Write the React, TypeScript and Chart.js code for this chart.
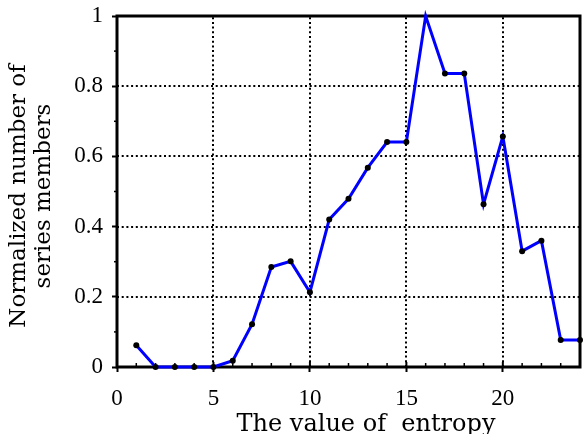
import React, { useEffect, useRef } from "react";
import { Chart, registerables } from "chart.js";

Chart.register(...registerables);

const entropyValues = [1, 2, 3, 4, 5, 6, 7, 8, 9, 10, 11, 12, 13, 14, 15, 16, 17, 18, 19, 20, 21, 22, 23, 24];
const normalizedMembers = [0.062, 0, 0, 0, 0, 0.018, 0.122, 0.285, 0.301, 0.213, 0.42, 0.479, 0.568, 0.641, 0.641, 1.0, 0.836, 0.836, 0.464, 0.657, 0.33, 0.36, 0.077, 0.077];
const xGridValues = [5, 10, 15, 20];
const yGridValues = [0.2, 0.4, 0.6, 0.8];
const xTitle = "The value of  entropy";
const yTitle = ["Normalized number of", "series members"];

const TICK_FONT = "'Liberation Serif', serif";
const TITLE_FONT = "'DejaVu Serif', serif";

const framePlugin = {
  id: "frameGrid",
  beforeDatasetsDraw(chart: any) {
    const { ctx, chartArea, scales } = chart;
    const xs = scales.x;
    const ys = scales.y;
    ctx.save();
    ctx.strokeStyle = "#000";
    ctx.lineWidth = 2;
    ctx.setLineDash([2, 2.7]);
    xGridValues.forEach((v) => {
      const px = Math.round(xs.getPixelForValue(v));
      ctx.beginPath();
      ctx.moveTo(px, chartArea.bottom);
      ctx.lineTo(px, chartArea.top);
      ctx.stroke();
    });
    yGridValues.forEach((v) => {
      const py = Math.round(ys.getPixelForValue(v));
      ctx.beginPath();
      ctx.moveTo(chartArea.left, py);
      ctx.lineTo(chartArea.right, py);
      ctx.stroke();
    });
    ctx.setLineDash([]);
    ctx.lineWidth = 1.5;
    for (let v = 1; v < 24; v++) {
      if (v % 5 === 0) continue;
      const px = xs.getPixelForValue(v);
      ctx.beginPath();
      ctx.moveTo(px, chartArea.bottom);
      ctx.lineTo(px, chartArea.bottom - 4);
      ctx.stroke();
    }
    for (let i = 1; i < 10; i += 2) {
      const py = ys.getPixelForValue(i / 10);
      ctx.beginPath();
      ctx.moveTo(chartArea.left, py);
      ctx.lineTo(chartArea.left - 3, py);
      ctx.stroke();
    }
    ctx.lineWidth = 2;
    xGridValues.forEach((v) => {
      const px = xs.getPixelForValue(v);
      ctx.beginPath();
      ctx.moveTo(px, chartArea.bottom);
      ctx.lineTo(px, chartArea.bottom - 5);
      ctx.stroke();
    });
    ctx.lineWidth = 3;
    ctx.strokeRect(chartArea.left, chartArea.top, chartArea.right - chartArea.left, chartArea.bottom - chartArea.top);
    ctx.restore();
  },
  afterDraw(chart: any) {
    const { ctx, chartArea } = chart;
    ctx.save();
    ctx.fillStyle = "#000";
    ctx.textBaseline = "alphabetic";
    ctx.textAlign = "center";
    ctx.font = `24px ${TITLE_FONT}`;
    ctx.fillText(xTitle, chartArea.left + 249, chartArea.bottom + 64);
    ctx.font = `23px ${TITLE_FONT}`;
    const cy = chartArea.top + 180;
    yTitle.forEach((line, i) => {
      ctx.save();
      ctx.translate(25 + i * 25, cy);
      ctx.rotate(-Math.PI / 2);
      ctx.fillText(line, 0, 0);
      ctx.restore();
    });
    ctx.restore();
  },
};

export default function App() {
  const ref = useRef<HTMLCanvasElement>(null);
  useEffect(() => {
    document.body.style.margin = "0";
    const canvas = ref.current;
    if (!canvas) return;
    const chart = new Chart(canvas, {
      type: "line",
      data: {
        datasets: [
          {
            data: entropyValues.map((x, i) => ({ x, y: normalizedMembers[i] })),
            borderColor: "#0000ff",
            borderWidth: 3,
            pointBackgroundColor: "#000",
            pointBorderColor: "#000",
            pointRadius: normalizedMembers.map((v) => (v >= 1 ? 0 : 3)),
            pointBorderWidth: 0,
            tension: 0,
            clip: false as any,
          },
        ],
      },
      options: {
        animation: false,
        responsive: false,
        maintainAspectRatio: false,
        layout: { padding: { top: 16, right: 3, left: 0, bottom: 0 } },
        plugins: { legend: { display: false }, tooltip: { enabled: false } },
        scales: {
          x: {
            type: "linear",
            min: 0,
            max: 24,
            ticks: {
              stepSize: 5,
              includeBounds: false,
              color: "#000",
              padding: 13,
              maxRotation: 0,
              font: { family: TICK_FONT, size: 23 },
            },
            grid: { drawOnChartArea: false, drawTicks: true, tickLength: 5, tickColor: "#000", tickWidth: 2, color: "#000" },
            border: { display: false },
            title: { display: false },
            afterFit: (s: any) => {
              s.height = 67;
              s.paddingLeft = 0;
              s.paddingRight = 0;
            },
          },
          y: {
            type: "linear",
            min: 0,
            max: 1,
            ticks: {
              stepSize: 0.2,
              color: "#000",
              padding: 9,
              font: { family: TICK_FONT, size: 23 },
              callback: (v: any) => String(Number(Number(v).toFixed(1))),
            },
            grid: { drawOnChartArea: false, drawTicks: true, tickLength: 5, tickColor: "#000", tickWidth: 2, color: "#000" },
            border: { display: false },
            title: { display: false },
            afterFit: (s: any) => {
              s.width = 117;
              s.paddingTop = 0;
              s.paddingBottom = 0;
            },
          },
        },
      },
      plugins: [framePlugin],
    });
    return () => chart.destroy();
  }, []);
  return (
    <div style={{ width: 584, height: 434 }}>
      <canvas ref={ref} width={584} height={434} style={{ display: "block" }} />
    </div>
  );
}
